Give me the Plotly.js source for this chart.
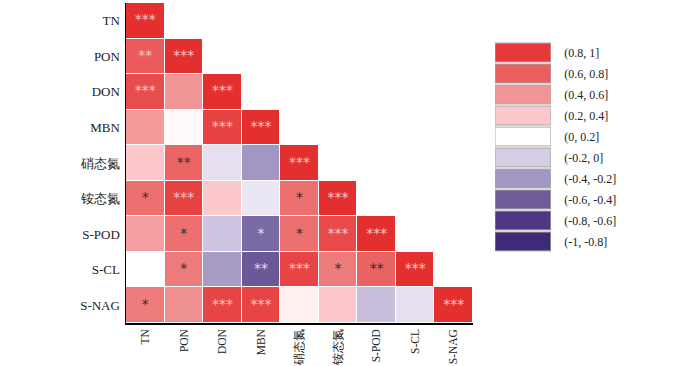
<!DOCTYPE html>
<html><head><meta charset="utf-8">
<script src="https://cdn.plot.ly/plotly-3.0.1.min.js"></script>
<style>html,body{margin:0;padding:0;background:#fff}#c{width:700px;height:366px}</style>
</head><body><div id="c"></div>
<script>
const labels = ['TN','PON','DON','MBN','硝态氮','铵态氮','S-POD','S-CL','S-NAG'];
const corrRows = [
  [1],
  [0.72, 1],
  [0.80, 0.50, 1],
  [0.48, 0.14, 0.85, 1],
  [0.30, 0.68, -0.05, -0.30, 1],
  [0.64, 0.86, 0.30, -0.03, 0.64, 1],
  [0.46, 0.64, -0.13, -0.45, 0.64, 0.82, 1],
  [0.10, 0.60, -0.28, -0.52, 0.84, 0.60, 0.69, 1],
  [0.60, 0.52, 0.84, 0.84, 0.20, 0.30, -0.15, -0.05, 1]
];
const sigRows = [
  ['***'],
  ['**','***'],
  ['***','','***'],
  ['','','***','***'],
  ['','**','','','***'],
  ['*','***','','','*','***'],
  ['','*','','*','*','***','***'],
  ['','*','','**','***','*','**','***'],
  ['*','','***','***','','','','','***']
];
const legendLabels = ['(0.8, 1]','(0.6, 0.8]','(0.4, 0.6]','(0.2, 0.4]','(0, 0.2]','(-0.2, 0]','(-0.4, -0.2]','(-0.6, -0.4]','(-0.8, -0.6]','(-1, -0.8]'];
const legendMid = [0.9,0.7,0.5,0.3,0.1,-0.1,-0.3,-0.5,-0.7,-0.9];

const cscale = [
  [0.0,'#3a2470'],[0.05,'#3f2a78'],[0.15,'#4e3883'],[0.25,'#6e5c9a'],[0.35,'#a396c2'],
  [0.45,'#d5cce6'],[0.5,'#f4f1f8'],[0.55,'#ffffff'],[0.6,'#fff0f0'],[0.65,'#fdc8cb'],[0.75,'#f29596'],
  [0.85,'#ea6060'],[0.95,'#e63a3a'],[1.0,'#e3302f']
];

const z = labels.map((r,i)=>labels.map((c,j)=> j<=i ? corrRows[i][j] : null));
const sx=[], sy=[], st=[], sc=[];
labels.forEach((r,i)=>labels.forEach((c,j)=>{
  if(j<=i && sigRows[i][j]){
    const v = corrRows[i][j];
    sx.push(c); sy.push(r); st.push(sigRows[i][j]);
    sc.push(v>=0.71 ? '#f8c8c8' : (v<=-0.4 ? '#e4def2' : '#3a2a2a'));
  }
}));

const font = 'Liberation Serif';
const data = [
  {type:'heatmap', x:labels, y:labels, z:z, zmin:-1, zmax:1, colorscale:cscale,
   showscale:false, xgap:1, ygap:1, hoverongaps:false},
  {type:'scatter', mode:'text', x:sx, y:sy, text:st,
   textfont:{color:sc, size:14, family:'DejaVu Sans'}, textposition:'middle center', hoverinfo:'skip'},
  {type:'bar', orientation:'h', x:legendLabels.map(()=>1), y:legendLabels, xaxis:'x2', yaxis:'y2',
   width:0.9, marker:{color:legendMid, colorscale:cscale, cmin:-1, cmax:1, line:{color:'#a8a8a8', width:1}},
   hoverinfo:'skip'}
];
const layout = {
  width:700, height:366, margin:{l:126, r:20, t:3, b:43},
  paper_bgcolor:'#fff', plot_bgcolor:'#fff', showlegend:false,
  font:{family:font, size:13, color:'#222'},
  xaxis:{domain:[0,0.6264], type:'category', showline:true, linecolor:'#000', linewidth:1.5,
         showgrid:false, zeroline:false, ticks:'', tickangle:-90, automargin:false, fixedrange:true,
         ticklabelstandoff:0, tickfont:{family:font, size:11.5, color:'#222'}},
  yaxis:{domain:[0,1], type:'category', autorange:'reversed', showline:true, linecolor:'#000', linewidth:1.5,
         showgrid:false, zeroline:false, ticks:'', automargin:false, ticklabelstandoff:2,
         tickfont:{family:font, size:13, color:'#222'}},
  xaxis2:{domain:[0.666,0.767], anchor:'y2', range:[0,1], visible:false, fixedrange:true},
  yaxis2:{domain:[0.222,0.878], anchor:'x2', side:'right', type:'category', autorange:'reversed',
          showline:false, showgrid:false, zeroline:false, ticks:'outside', ticklen:10, tickcolor:'rgba(0,0,0,0)',
          automargin:false, tickfont:{family:font, size:12, color:'#222'}}
};
Plotly.newPlot('c', data, layout, {displayModeBar:false, staticPlot:true});
</script></body></html>
